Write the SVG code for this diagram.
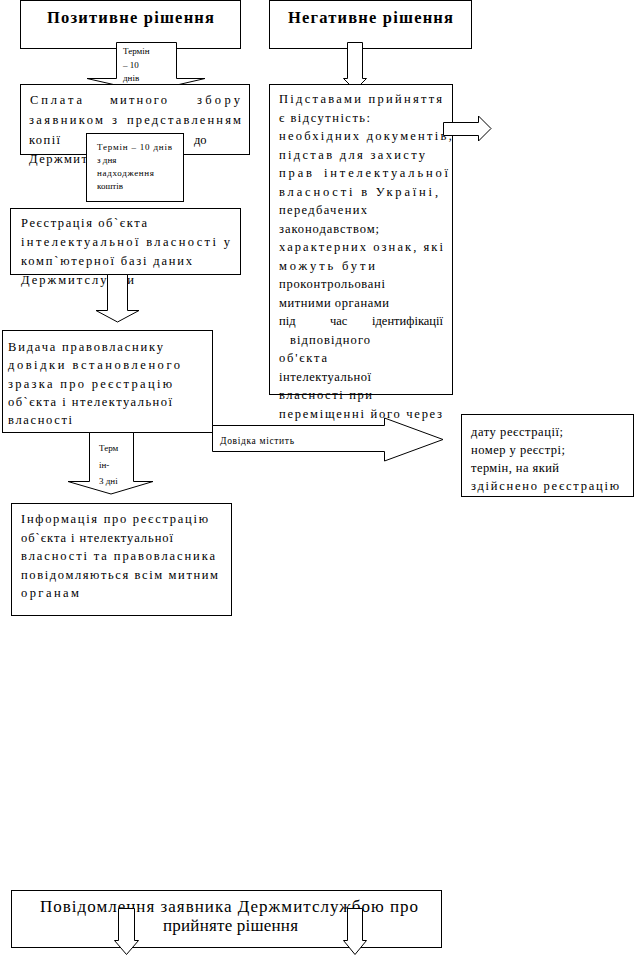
<svg xmlns="http://www.w3.org/2000/svg" width="635" height="955" viewBox="0 0 635 955">
<style>
.box{fill:#fff;stroke:#000;stroke-width:1}
.arr{fill:#fff;stroke:#000;stroke-width:1}
text{font-family:"Liberation Serif","Times New Roman",serif;fill:#000}
.t{font-size:12.5px}
.h{font-size:16.5px;font-weight:bold}
.s{font-size:9px}
.b{font-size:17px}
</style>
<rect width="635" height="955" fill="#fff"/>
<g id="pos">
<rect class="box" x="20.5" y="0.5" width="220" height="48"/>
<text class="h" x="47" y="23" textLength="167" lengthAdjust="spacing">Позитивне рішення</text>
</g>
<g id="neg">
<rect class="box" x="269.5" y="0.5" width="202" height="48"/>
<text class="h" x="288" y="23" textLength="165" lengthAdjust="spacing">Негативне рішення</text>
</g>
<g id="connectors">
<g id="a1">
<polygon class="arr" points="116.5,42.5 176.5,42.5 176.5,78.5 205,78.5 146.5,92 87,78.5 116.5,78.5"/>
<text class="s" x="123" y="54">Термін</text>
<text class="s" x="123" y="68">– 10</text>
<text class="s" x="123" y="81">днів</text>
</g>
<polygon id="a2" class="arr" points="347.5,42.5 362.5,42.5 362.5,78.5 366.5,78.5 355,90 343.5,78.5 347.5,78.5"/>
</g>
<g id="pay">
<rect class="box" x="20.5" y="84.5" width="229" height="70"/>
<text class="t" x="30" y="104" textLength="52" lengthAdjust="spacing">Сплата</text>
<text class="t" x="110" y="104" textLength="57" lengthAdjust="spacing">митного</text>
<text class="t" x="197" y="104" textLength="43" lengthAdjust="spacing">збору</text>
<text class="t" x="29" y="124" textLength="74" lengthAdjust="spacing">заявником</text>
<text class="t" x="112" y="124">з</text>
<text class="t" x="127" y="124" textLength="114" lengthAdjust="spacing">представленням</text>
<text class="t" x="29" y="144" textLength="31" lengthAdjust="spacing">копії</text>
<text class="t" x="194" y="144">до</text>
<text class="t" x="29" y="163" textLength="58" lengthAdjust="spacing">Держмит</text>
</g>
<g id="term10">
<rect class="box" x="86.5" y="133.5" width="97" height="68"/>
<text class="s" x="97" y="150" textLength="75" lengthAdjust="spacing">Термін – 10 днів</text>
<text class="s" x="97" y="163">з дня</text>
<text class="s" x="97" y="176" textLength="57" lengthAdjust="spacing">надходження</text>
<text class="s" x="97" y="189">коштів</text>
</g>
<g id="grounds">
<rect class="box" x="269.5" y="84.5" width="183" height="310"/>
<text class="t" x="279" y="103" textLength="163" lengthAdjust="spacing">Підставами прийняття</text>
<text class="t" x="279" y="121.5" textLength="91" lengthAdjust="spacing">є відсутність:</text>
<text class="t" x="279" y="140" textLength="173" lengthAdjust="spacing">необхідних документів;</text>
<text class="t" x="279" y="158.5" textLength="146" lengthAdjust="spacing">підстав для захисту</text>
<text class="t" x="279" y="177" textLength="33" lengthAdjust="spacing">прав</text>
<text class="t" x="324" y="177" textLength="124" lengthAdjust="spacing">інтелектуальної</text>
<text class="t" x="279" y="195.5" textLength="159" lengthAdjust="spacing">власності в Україні,</text>
<text class="t" x="279" y="214" textLength="88" lengthAdjust="spacing">передбачених</text>
<text class="t" x="279" y="232.5" textLength="100" lengthAdjust="spacing">законодавством;</text>
<text class="t" x="279" y="251" textLength="164" lengthAdjust="spacing">характерних ознак,  які</text>
<text class="t" x="279" y="269.5" textLength="96" lengthAdjust="spacing">можуть бути</text>
<text class="t" x="279" y="288" textLength="106" lengthAdjust="spacing">проконтрольовані</text>
<text class="t" x="279" y="306.5" textLength="110" lengthAdjust="spacing">митними органами</text>
<text class="t" x="279" y="325">під</text>
<text class="t" x="330" y="325">час</text>
<text class="t" x="372" y="325" textLength="71" lengthAdjust="spacing">ідентифікації</text>
<text class="t" x="290" y="343.5" textLength="80" lengthAdjust="spacing">відповідного</text>
<text class="t" x="279" y="362" textLength="48" lengthAdjust="spacing">об'єкта</text>
<text class="t" x="279" y="380.5" textLength="92" lengthAdjust="spacing">інтелектуальної</text>
<text class="t" x="279" y="399" textLength="93" lengthAdjust="spacing">власності при</text>
<text class="t" x="279" y="417.5" textLength="163" lengthAdjust="spacing">переміщенні його через</text>
</g>
<g id="reg">
<rect class="box" x="10.5" y="208.5" width="230" height="66"/>
<text class="t" x="21" y="227" textLength="126" lengthAdjust="spacing">Реєстрація об`єкта</text>
<text class="t" x="21" y="246" textLength="209" lengthAdjust="spacing">інтелектуальної власності у</text>
<text class="t" x="21" y="265" textLength="171" lengthAdjust="spacing">комп`ютерної базі даних</text>
<text class="t" x="21" y="284" textLength="113" lengthAdjust="spacing">Держмитслужби</text>
</g>
<g id="issue">
<rect class="box" x="2.5" y="330.5" width="210" height="102"/>
<text class="t" x="8" y="351" textLength="155" lengthAdjust="spacing">Видача правовласнику</text>
<text class="t" x="8" y="369" textLength="172" lengthAdjust="spacing">довідки встановленого</text>
<text class="t" x="8" y="387.5" textLength="164" lengthAdjust="spacing">зразка про реєстрацію</text>
<text class="t" x="8" y="406" textLength="164" lengthAdjust="spacing">об`єкта і нтелектуальної</text>
<text class="t" x="8" y="424" textLength="64" lengthAdjust="spacing">власності</text>
</g>
<g id="connectors2">
<polygon id="a3" class="arr" points="443.5,122.5 478.5,122.5 478.5,116 491,128.5 478.5,141 478.5,135.5 443.5,135.5"/>
<polygon id="a4" class="arr" points="107.5,274.5 127.5,274.5 127.5,310.5 139,310.5 117.5,322 96,310.5 107.5,310.5"/>
<g id="a5">
<polygon class="arr" points="212.5,425.5 384.5,425.5 384.5,418 443,439.5 384.5,461 384.5,451.5 212.5,451.5"/>
<text x="220" y="444" style="font-size:9.5px" textLength="74" lengthAdjust="spacing">Довідка містить</text>
</g>
<g id="a6">
<polygon class="arr" points="89.5,432.5 133.5,432.5 133.5,481.5 153,481.5 111,494 68,481.5 89.5,481.5"/>
<text class="s" x="99" y="451">Терм</text>
<text class="s" x="99" y="468">ін-</text>
<text class="s" x="99" y="484">3 дні</text>
</g>
</g>
<g id="content">
<rect class="box" x="461.5" y="414.5" width="172" height="82"/>
<text class="t" x="471" y="436" textLength="92" lengthAdjust="spacing">дату реєстрації;</text>
<text class="t" x="471" y="454" textLength="94" lengthAdjust="spacing">номер у реєстрі;</text>
<text class="t" x="471" y="472" textLength="88" lengthAdjust="spacing">термін, на який</text>
<text class="t" x="471" y="490" textLength="148" lengthAdjust="spacing">здійснено реєстрацію</text>
</g>
<g id="info">
<rect class="box" x="11.5" y="503.5" width="220" height="112"/>
<text class="t" x="21" y="523" textLength="187" lengthAdjust="spacing">Інформація про реєстрацію</text>
<text class="t" x="21" y="541.5" textLength="152" lengthAdjust="spacing">об`єкта і нтелектуальної</text>
<text class="t" x="21" y="560" textLength="194" lengthAdjust="spacing">власності та правовласника</text>
<text class="t" x="21" y="578.5" textLength="197" lengthAdjust="spacing">повідомляються всім митним</text>
<text class="t" x="21" y="597" textLength="58" lengthAdjust="spacing">органам</text>
</g>
<g id="notice">
<rect class="box" x="11.5" y="890.5" width="430" height="57"/>
<text class="b" x="40" y="912" textLength="378" lengthAdjust="spacing">Повідомлення заявника Держмитслужбою про</text>
<text class="b" x="163" y="931" textLength="135" lengthAdjust="spacing">прийняте рішення</text>
</g>
<g id="connectors3">
<polygon class="arr" points="118.5,908.5 134.5,908.5 134.5,940.5 138.5,940.5 126.5,954.5 114.5,940.5 118.5,940.5"/>
<polygon class="arr" points="347.5,908.5 362.5,908.5 362.5,940.5 366.5,940.5 355,954.5 343.5,940.5 347.5,940.5"/>
</g>
</svg>
